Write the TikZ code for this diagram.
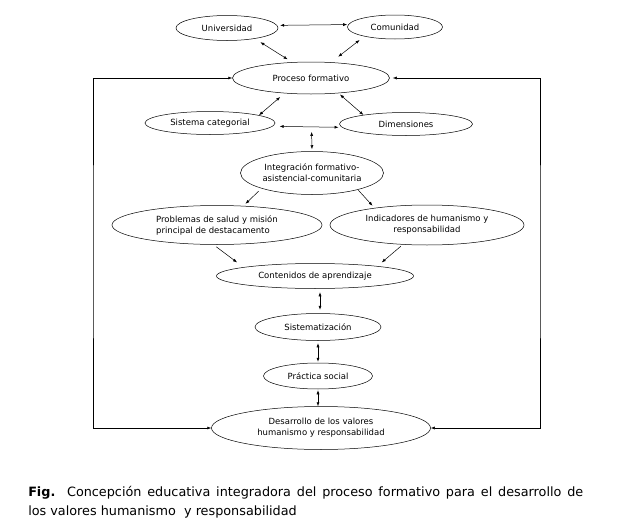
\documentclass[tikz,border=0pt]{standalone}
\usepackage{fontspec}
\setmainfont{DejaVu Sans}
\usetikzlibrary{shapes.geometric,arrows.meta}

\begin{document}
\begin{tikzpicture}[x=1pt, y=-1pt, line width=.5pt,
	elip/.style={ellipse, draw, inner sep=0pt, align=center, font=\fontsize{8.5}{11}\selectfont},
	flecha/.style={-{Latex[length=4pt,width=3pt]}},
	dflecha/.style={{Latex[length=4pt,width=3pt]}-{Latex[length=4pt,width=3pt]}}]
	\useasboundingbox (0,0) rectangle (625,525);
	\node[elip, minimum width=102, minimum height=25] (univ) at (227,28) {Universidad};
	\node[elip, minimum width=95, minimum height=24] (com) at (395,27) {Comunidad};
	\node[elip, minimum width=157, minimum height=32] (proc) at (311,78) {Proceso formativo};
	\node[elip, minimum width=130, minimum height=23] (sist) at (210,123) {Sistema categorial};
	\node[elip, minimum width=133, minimum height=23] (dim) at (406,124) {Dimensiones};
	\node[elip, minimum width=143, minimum height=43] (integ) at (312,173) {Integración formativo-\\asistencial-comunitaria};
	\node[elip, minimum width=210, minimum height=39, align=left] (prob) at (217,225) {Problemas de salud y misión\\principal de destacamento};
	\node[elip, minimum width=194, minimum height=40] (ind) at (427,225) {Indicadores de humanismo y\\responsabilidad};
	\node[elip, minimum width=197, minimum height=25] (cont) at (315,276) {Contenidos de aprendizaje};
	\node[elip, minimum width=126, minimum height=27] (sistem) at (318,327) {Sistematización};
	\node[elip, minimum width=109, minimum height=26] (prac) at (318,376) {Práctica social};
	\node[elip, minimum width=219, minimum height=43] (des) at (321,428) {Desarrollo de los valores\\humanismo y responsabilidad};
	\coordinate (izq) at (93,250);
	\coordinate (der) at (540,250);

	\draw[dflecha, shorten <=3pt, shorten >=1pt] (univ.3) -- (com.177);
	\draw[dflecha, shorten <=6.5pt, shorten >=5.4pt] (univ.-21) -- (proc.140);
	\draw[dflecha, shorten <=5.9pt, shorten >=9pt] (com.-163) -- (proc.38);
	\draw[dflecha, shorten <=5.7pt] (proc.-150) -- (sist.9);
	\draw[dflecha, shorten <=2pt] (proc.-29) -- (dim.168);
	\draw[dflecha, shorten <=7pt, shorten >=3.5pt] (sist.-3) -- coordinate[pos=.56] (sd) (dim.-177);
	\draw[dflecha, shorten <=5pt, shorten >=2pt] (sd) -- (integ.north);
	\draw[flecha, shorten <=4pt, shorten >=3pt] (integ.-163) -- (prob.36);
	\draw[flecha, shorten <=.5pt, shorten >=3pt] (integ.-20) -- (ind.162);
	\draw[flecha, shorten <=3.5pt, shorten >=8pt] (prob.-100) -- (cont.173);
	\draw[flecha, shorten <=2.6pt, shorten >=5.7pt] (ind.-141) -- (cont.9);
	\draw[dflecha, shorten <=3.5pt, shorten >=3.5pt] ([xshift=5pt]cont.south) -- ([xshift=2pt]sistem.north);
	\draw[dflecha, shorten <=2.5pt, shorten >=1pt] (sistem.south) -- (prac.north);
	\draw[dflecha, shorten <=1pt] (prac.south) -- ([xshift=-3pt]des.north);
	\draw[dflecha] (proc.west) -| (izq) |- (des.west);
	\draw[dflecha, shorten <=3pt] (proc.east) -| (der) |- (des.east);

	\node[anchor=north west, text width=555, align=justify, inner sep=0pt, font=\fontsize{12.8}{19}\selectfont] (pie) at (28,486)
		{\textbf{Fig.}\ \ Concepción educativa integradora del proceso formativo para el desarrollo de\linebreak los valores humanismo\ \ y responsabilidad};
\end{tikzpicture}
\end{document}
